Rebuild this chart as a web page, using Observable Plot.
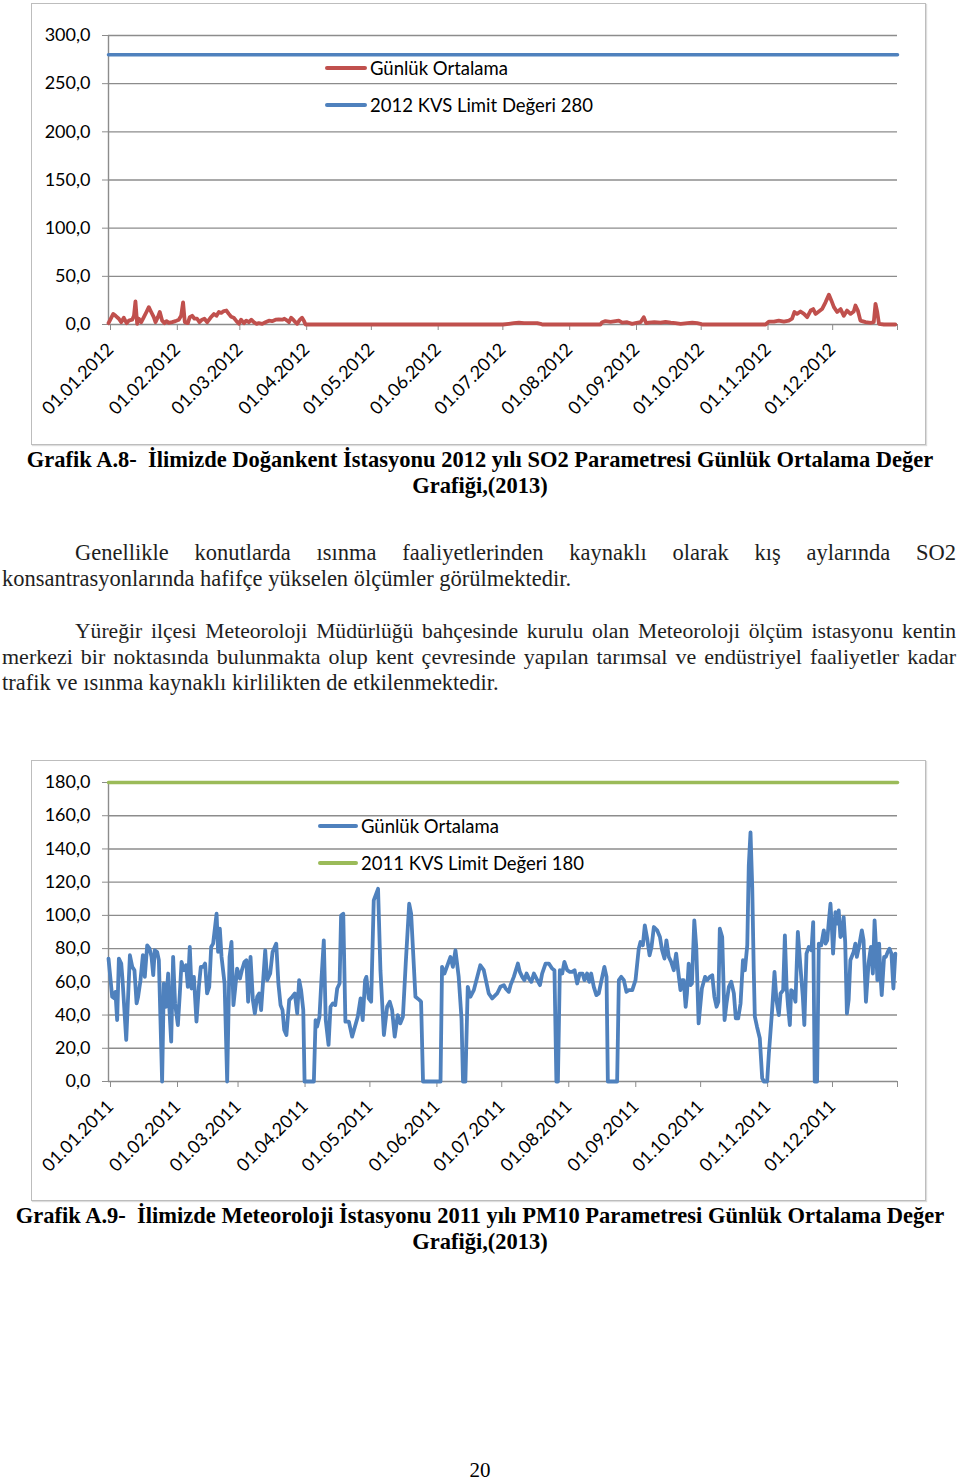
<!DOCTYPE html>
<html><head><meta charset="utf-8">
<script src="https://cdn.jsdelivr.net/npm/d3@7"></script>
<script src="https://cdn.jsdelivr.net/npm/@observablehq/plot@0.6"></script>
<style>
body{margin:0;background:#fff;}
#page{position:relative;width:960px;height:1481px;overflow:hidden;font-family:"Liberation Serif","Times New Roman",serif;color:#000;}
.box{position:absolute;border:1.5px solid #bdbdbd;box-sizing:border-box;box-shadow:1px 1px 1px #ddd;}
.chart{position:absolute;}
.leg{position:absolute;font-family:Lato,sans-serif;font-size:18.5px;color:#000;white-space:nowrap;height:24px;line-height:24px;}
.sw{display:inline-block;width:42px;height:4px;margin-right:3px;vertical-align:middle;position:relative;top:-2px;border-radius:2px;}
.t{position:absolute;line-height:26px;font-size:22.5px;white-space:nowrap;}
.cap{font-weight:bold;left:0;width:960px;text-align:center;}
.p{left:2px;width:954px;color:#1e1e1e;}
.j{text-align:justify;text-align-last:justify;white-space:nowrap;}
</style></head>
<body><div id="page"></div>
<script>
// ---------- Chart A.8 : SO2 2012 (Doğankent) ----------
const so2Days = [0,2.2,3.3,4.8,5.9,7.1,8.4,9.4,11,11.8,12.5,13.3,14.1,15.2,16.4,17.6,18.7,19.8,21,21.8,22.9,23.8,24.9,26,26.9,28,29.5,31.1,32.6,33.7,34.6,35.4,36.8,37.7,38.8,39.9,41.1,42.2,43.4,44.5,45.8,47.3,48.9,50.1,51.2,52.3,53.5,54.7,55.8,56.9,58.1,59.2,60.5,61.5,62.8,63.9,65.1,66.2,67.4,68.7,69.7,71.3,72.8,74.4,75.9,77.5,79,80.6,81.6,82.9,83.7,84.7,85.7,86.7,87.5,88.8,89.8,90.6,91.4,
  183,185.7,188,190.4,192.7,195.8,198.9,200.4,201.2,
  228.2,229,230.5,232.9,235.2,236.7,238.3,240.6,242.9,244.4,246.8,248.3,249.4,250.6,253.2,256.1,258.4,260.8,263,265.4,268.5,270.8,273.1,274.6,275.4,
  304.8,306.3,308.7,310.9,313.3,315.6,317.1,318.2,319.4,321,322.6,324.1,325.7,326.9,328,329.5,331,332.6,334.2,335.3,336.5,338,339.6,341.1,342.6,344.2,345.7,346.5,347.6,348.8,351.2,353.5,355,355.8,356.6,357.4,359.7,365];
const so2Vals = [1.4,11,9,6,2.4,7,1.4,4,5,9,24,0.7,6,2.4,7.6,13,18,13,7.6,2.4,7.6,13,4,1.4,3.5,1.7,2.4,3.5,5,9,23,2.4,1.4,7.6,9,6,6,2.4,5,6,2.4,7,11,9,13,12,14,14.5,11,8,7,4,0.7,5,1.4,4,2.4,5,2.4,0.7,1.4,0.7,2.4,4,3.5,5,5.2,5,6,4,2.4,7,5,2.4,0.7,5,7,4,0,
  0,0.7,1.4,2,1.4,1.4,1.4,0.7,0,
  0,2.4,3.5,2.8,3.5,4,2,2.4,0.7,1.4,2.4,7.6,1.4,2,2.4,2,2.8,2,1.4,0.7,1.4,2,1.4,0.7,0,
  0,3,3,4,3,4,6,13,11,13.5,11,7.6,14.5,16,11,13.5,16,23,31,25,18,13,16,9,14.5,11,13.5,19.7,14.5,4,2.4,1.7,2.4,21.5,13,0.7,0,0];
const so2Limit = 280;
const so2Ticks = [0,31,60,91,121,152,182,213,244,274,305,335];
const so2Labels = ["01.01.2012","01.02.2012","01.03.2012","01.04.2012","01.05.2012","01.06.2012","01.07.2012","01.08.2012","01.09.2012","01.10.2012","01.11.2012","01.12.2012"];
const so2YTicks = [0,50,100,150,200,250,300];

// ---------- Chart A.9 : PM10 2011 (Meteoroloji) ----------
const pm10Days = [0,1.7,2.8,3.2,4,4.8,5.9,6.5,8.2,9.9,11,12,13,13.7,14.8,15.9,16.8,17.9,19,19.9,20.7,21.4,22.5,23.3,24.8,25.6,26.5,27.6,28.2,29,29.9,30.8,32.1,33,33.8,34.9,35.9,36.7,37.6,38.4,39.5,40.7,41.8,42.7,43.8,44.7,45.6,46.6,47.5,48.4,50,50.7,51.5,52.3,53.7,54.9,56,56.9,57.8,58.6,59.5,60.8,61.7,62.9,63.8,64.6,65.7,66.8,67.7,68.8,69.7,70.6,71.6,72.5,73.4,74.8,75.9,77.6,78.6,79.6,80.5,81.3,82.3,83.6,85,86.2,87.3,88.2,89.1,90.1,90.7,
  95,95.8,96.5,97.6,98.5,99.6,100.5,101.8,102.7,103.8,104.9,105.8,106.9,107.6,108.6,109.6,111.2,112.7,114,115.3,116.6,117.6,118.7,119.3,120.4,121.5,122.7,124.7,125.8,127.4,128.9,130.1,131.2,132.4,133.8,135,136.2,137.5,139.1,140,142,143.9,144.6,145.5,153.6,154.3,155.4,158.2,159.3,160.5,162,163.3,164,165.1,166.2,167.4,169,172,173.6,175.9,177.5,179.8,181.3,
  182.9,183.7,185.2,186,187.5,189.4,190.3,191.4,192.4,193.4,194.5,195.6,196.8,198,199.6,200.6,202.2,203.7,205.2,206.3,207.2,207.9,208.8,209.9,210.9,212.2,213.4,214.5,215.6,216.8,218,219.3,220.2,221.4,222.4,223.3,224.5,225.7,226.8,228.4,229.4,230.4,231,235.3,236.1,237.2,238.4,239.6,240.7,242.3,243.8,245.3,246.1,247.2,248.1,249.2,250.3,251.2,252.3,253.8,255.1,256.1,257.2,258.1,259.2,260.3,261.5,262.6,263.5,264.6,265.3,266.1,267,267.6,268.4,269.2,269.9,271,271.9,273,274.5,276,
  276.9,278.2,279.3,280.3,281.3,282.1,282.8,283.9,285,285.9,287,288.1,289.3,290.2,291.3,292.4,293.5,294.4,295.5,296.2,297,297.8,298.5,299,300,301.3,302.4,303.2,304.7,305.5,307,308.1,309,310.1,310.9,312.1,312.9,313.7,314.4,315.2,315.8,316.7,317.8,318.9,320.1,321.2,321.9,322.9,324,325.2,326,326.7,327.8,328.6,329.7,330.9,331.7,332.5,333.2,334,334.7,335.2,336.3,337,337.8,338.6,339.3,340.1,340.8,341.6,342.4,343.2,344.7,345.5,346.2,347.3,348.5,349.3,350.4,351.6,352.7,353.6,354.4,355.1,355.7,356.5,357,357.7,358.8,359.6,360.5,361.3,362.2,363.1,364];
const pm10Vals = [74,51,50,54,37,74,71,61,25,76,69,67,47,51,61,76,63,82,80,75,64,79,78,73,0,59,45,65,43,24,75,47,34,53,72,67,70,57,81,56,63,36,57,69,69,71,53,57,81,83,101,78,92,75,59,0,75,84,46,56,68,62,67,72,73,48,75,49,41,51,53,43,62,79,61,65,78,83,59,46,43,31,28,49,51,53,41,61,55,43,0,
  0,37,33,39,61,85,37,22,45,47,46,56,59,100,101,36,36,27,33,39,50,37,61,63,50,48,109,116,67,28,45,48,43,27,40,35,39,71,107,101,51,49,48,0,0,69,65,75,69,79,63,38,0,0,57,51,55,70,67,53,50,53,57,
  58,56,54,58,63,71,66,63,61,65,62,60,65,62,58,65,71,71,68,67,0,0,67,65,72,67,66,66,67,59,65,65,61,65,60,65,57,52,53,63,69,63,0,0,61,63,61,54,55,55,61,80,84,82,94,86,76,81,93,91,87,79,74,85,75,72,67,77,67,55,61,61,45,53,71,58,59,97,81,35,56,63,
  61,63,64,51,45,48,92,87,37,47,57,60,53,38,38,47,73,67,82,130,150,117,67,39,33,26,2,0,0,17,43,66,49,40,53,55,88,57,45,34,55,54,48,90,69,51,34,77,81,79,96,0,0,83,82,91,83,85,96,107,91,77,102,95,103,87,88,99,84,41,49,73,78,83,75,82,91,85,48,71,81,65,97,80,61,83,67,52,75,75,78,80,77,56,77];
const pm10Limit = 180;
const pm10Ticks = [0,31,59,90,120,151,181,212,243,273,304,334];
const pm10Labels = ["01.01.2011","01.02.2011","01.03.2011","01.04.2011","01.05.2011","01.06.2011","01.07.2011","01.08.2011","01.09.2011","01.10.2011","01.11.2011","01.12.2011"];
const pm10YTicks = [0,20,40,60,80,100,120,140,160,180];

const GRID = "#8c8c8c";
const fmt = d => d.toFixed(1).replace(".", ",");

function makeChart(o) {
  const data = o.days.map((d, i) => ({day: d, v: o.vals[i]}));
  const limit = [{day: 0, v: o.limit}, {day: o.end, v: o.limit}];
  return Plot.plot({
    width: 895, height: o.height,
    marginLeft: 77, marginRight: 29, marginTop: o.mt, marginBottom: o.mb,
    x: {type: "linear", domain: [0, o.end]},
    y: {type: "linear", domain: [0, o.ymax]},
    style: {fontFamily: "Lato, sans-serif", fontSize: "18px", color: "#000", background: "transparent", overflow: "visible"},
    marks: [
      Plot.gridY(o.yTicks.filter(d => d > 0), {stroke: GRID, strokeOpacity: 1, strokeWidth: 1.4}),
      Plot.axisY(o.yTicks, {tickFormat: fmt, tickSize: 6, tickPadding: 12, stroke: GRID, fill: "#000", label: null}),
      Plot.axisX(o.ticks, {tickFormat: d => o.labels[o.ticks.indexOf(d)], tickRotate: -45, tickSize: 6, tickPadding: 16, dx: 2, stroke: GRID, fill: "#000", label: null}),
      Plot.axisX([o.end], {tickFormat: () => "", tickSize: 6, stroke: GRID, label: null}),
      Plot.ruleX([0], {stroke: GRID, strokeWidth: 1.4}),
      Plot.ruleY([0], {stroke: GRID, strokeWidth: 1.4}),
      Plot.line(limit, {x: "day", y: "v", stroke: o.limitColor, strokeWidth: 3.5}),
      Plot.line(data, {x: "day", y: "v", stroke: o.color, strokeWidth: o.sw})
    ]
  });
}

const page = document.getElementById("page");
function add(html) { page.insertAdjacentHTML("beforeend", html); }

// chart 1
add('<div class="box" style="left:31px;top:3px;width:895px;height:442px"></div>');
const c1 = makeChart({days: so2Days, vals: so2Vals, limit: so2Limit, end: 366, ticks: so2Ticks, labels: so2Labels, yTicks: so2YTicks, ymax: 300, height: 442, mt: 32, mb: 121, color: "#C0504D", limitColor: "#4F81BD", sw: 3.8});
c1.classList.add("chart"); c1.style.left = "31px"; c1.style.top = "3px";
page.appendChild(c1);
add('<div class="leg" style="left:325px;top:56px"><span class="sw" style="background:#C0504D"></span>Günlük Ortalama</div>');
add('<div class="leg" style="left:325px;top:93px"><span class="sw" style="background:#4F81BD"></span>2012 KVS Limit Değeri 280</div>');

// caption A.8
add('<div class="t cap" style="top:447px">Grafik A.8-&nbsp; İlimizde Doğankent İstasyonu 2012 yılı SO2 Parametresi Günlük Ortalama Değer</div>');
add('<div class="t cap" style="top:473px">Grafiği,(2013)</div>');

// paragraphs
add('<div class="t p j" style="top:540px;padding-left:73px;width:881px">Genellikle konutlarda ısınma faaliyetlerinden kaynaklı olarak kış aylarında SO2</div>');
add('<div class="t p" style="top:566px">konsantrasyonlarında hafifçe yükselen ölçümler görülmektedir.</div>');
add('<div class="t p j" style="top:618px;padding-left:73px;width:881px;font-size:21.6px">Yüreğir ilçesi Meteoroloji Müdürlüğü bahçesinde kurulu olan Meteoroloji ölçüm istasyonu kentin</div>');
add('<div class="t p j" style="top:644px;font-size:22px">merkezi bir noktasında bulunmakta olup kent çevresinde yapılan tarımsal ve endüstriyel faaliyetler kadar</div>');
add('<div class="t p" style="top:670px">trafik ve ısınma kaynaklı kirlilikten de etkilenmektedir.</div>');

// chart 2
add('<div class="box" style="left:31px;top:760px;width:895px;height:441px"></div>');
const c2 = makeChart({days: pm10Days, vals: pm10Vals, limit: pm10Limit, end: 365, ticks: pm10Ticks, labels: pm10Labels, yTicks: pm10YTicks, ymax: 180, height: 440, mt: 22, mb: 119, color: "#4F81BD", limitColor: "#9BBB59", sw: 3.8});
c2.classList.add("chart"); c2.style.left = "31px"; c2.style.top = "760px";
page.appendChild(c2);
add('<div class="leg" style="left:318px;top:814px"><span class="sw" style="background:#4F81BD;width:40px"></span>Günlük Ortalama</div>');
add('<div class="leg" style="left:318px;top:851px"><span class="sw" style="background:#9BBB59;width:40px"></span>2011 KVS Limit Değeri 180</div>');

// caption A.9
add('<div class="t cap" style="top:1203px">Grafik A.9-&nbsp; İlimizde Meteoroloji İstasyonu 2011 yılı PM10 Parametresi Günlük Ortalama Değer</div>');
add('<div class="t cap" style="top:1229px">Grafiği,(2013)</div>');

// page number
add('<div class="t" style="top:1460px;left:0;width:960px;text-align:center;font-size:21px;line-height:20px">20</div>');
</script>
</body></html>
